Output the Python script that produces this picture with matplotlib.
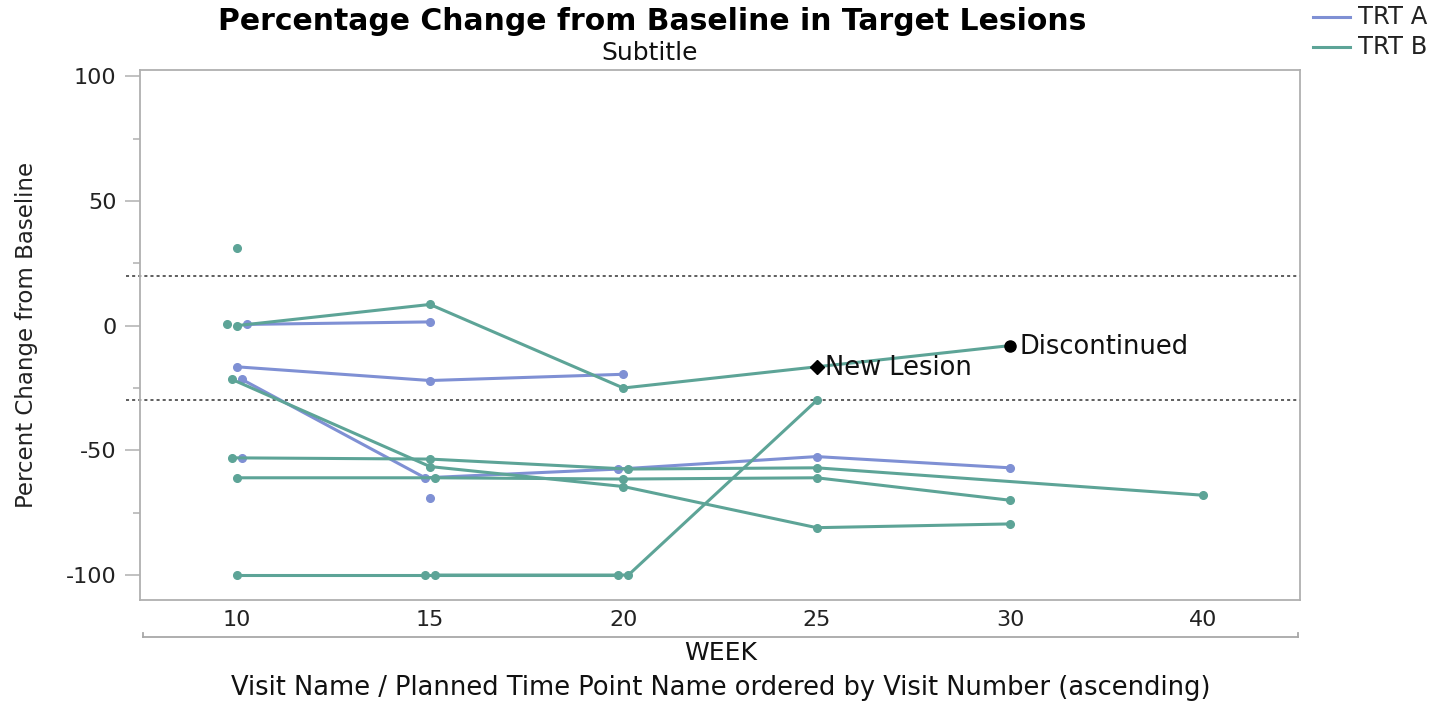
import matplotlib
matplotlib.use("Agg")
import matplotlib.pyplot as plt
from matplotlib.lines import Line2D
from matplotlib.ticker import MultipleLocator

plt.rcParams["axes.unicode_minus"] = False

# %%
# data
weeks = [10, 15, 20, 25, 30, 40]
week_labels = ["10", "15", "20", "25", "30", "40"]

# each subject: treatment, visit weeks, percent change, small x-jitter (pixels)
trt_a_1 = ("TRT A", [10, 15], [0.5, 1.5], [10, 0])
trt_a_2 = ("TRT A", [10, 15, 20], [-16.5, -22, -19.5], [0, 0, 0])
trt_a_3 = ("TRT A", [10, 15, 20, 25, 30], [-21.5, -61, -57.5, -52.5, -57], [5, -5, -5, 0, 0])
trt_a_4 = ("TRT A", [10], [-53], [5])
trt_a_5 = ("TRT A", [15], [-69], [0])

trt_b_1 = ("TRT B", [10], [31], [0])
trt_b_2 = ("TRT B", [10], [0.5], [-10])
trt_b_3 = ("TRT B", [10, 15, 20, 25, 30], [0, 8.5, -25, -16.5, -8], [0, 0, 0, 0, 0])
trt_b_4 = ("TRT B", [10, 15, 20, 25, 30], [-21.5, -56.5, -64.5, -81, -79.5], [-5, 0, 0, 0, 0])
trt_b_5 = ("TRT B", [10, 15, 20, 25, 40], [-53, -53.5, -57.5, -57, -68], [-5, 0, 5, 0, 0])
trt_b_6 = ("TRT B", [10, 15, 20, 25, 30], [-61, -61, -61.5, -61, -70], [0, 5, 0, 0, 0])
trt_b_7 = ("TRT B", [10, 15, 20], [-100, -100, -100], [0, -5, -5])
trt_b_8 = ("TRT B", [15, 20, 25], [-100, -100, -30], [5, 5, 0])

subjects = [trt_a_1, trt_a_2, trt_a_3, trt_a_4, trt_a_5,
            trt_b_1, trt_b_2, trt_b_3, trt_b_4, trt_b_5, trt_b_6, trt_b_7, trt_b_8]

# events flagged on subject trt_b_3
new_lesion = (25, -16.5)
discontinued = (30, -8)

ref_lines = [20, -30]

colors = {"TRT A": "#7f90d4", "TRT B": "#5da497"}

# %%
W, H = 1447, 702
fig = plt.figure(figsize=(W / 100, H / 100), dpi=100)
ax = fig.add_axes([140 / W, 1 - 600 / H, 1160 / W, 530 / H])

px_per_cat = 1160 / 6.0  # category spacing in pixels


def xpos(wk, off):
    return weeks.index(wk) + off / px_per_cat


for trt, wk, vals, off in subjects:
    xs = [xpos(w, o) for w, o in zip(wk, off)]
    ax.plot(xs, vals, color=colors[trt], linewidth=2.2, marker="o",
            markersize=5.5, zorder=3)

# event markers
ax.plot(xpos(new_lesion[0], 0), new_lesion[1], marker="D", color="black",
        markersize=7, zorder=5)
ax.plot(xpos(discontinued[0], 0), discontinued[1], marker="o", color="black",
        markersize=8, zorder=5)
ax.text(xpos(new_lesion[0], 0) + 0.045, new_lesion[1] - 0.5, "New Lesion",
        fontsize=18.5, va="center", ha="left", color="#111111", zorder=6)
ax.text(xpos(discontinued[0], 0) + 0.05, discontinued[1] - 0.5, "Discontinued",
        fontsize=18.5, va="center", ha="left", color="#111111", zorder=6)

# dotted reference lines, slightly past the left frame
for r in ref_lines:
    ax.plot([-0.012, 1], [r, r], transform=ax.get_yaxis_transform(),
            color="#333333", linestyle=(0, (2, 2)), linewidth=1.1,
            clip_on=False, zorder=2)

ax.set_xlim(-0.5, 5.5)
ax.set_ylim(-110, 102.5)
ax.set_xticks(range(len(weeks)))
ax.set_xticklabels(week_labels)
ax.yaxis.set_major_locator(MultipleLocator(50))
ax.yaxis.set_minor_locator(MultipleLocator(25))

for s in ax.spines.values():
    s.set_color("#b0b0b0")
    s.set_linewidth(1.3)

ax.tick_params(axis="y", which="major", length=11, width=1.1, color="#b0b0b0",
               labelsize=16, labelcolor="#222222", pad=6)
ax.tick_params(axis="y", which="minor", length=5, width=1.1, color="#b0b0b0")
ax.tick_params(axis="x", which="major", length=0, labelsize=16,
               labelcolor="#222222", pad=7)

fig.text(27 / W, 1 - 335 / H, "Percent Change from Baseline", fontsize=16.5,
         rotation=90, ha="center", va="center", color="#222222")

# bracket under the tick labels
by = 1 - 637 / H
x0, x1 = 143 / W, 1298 / W
fig.add_artist(Line2D([x0, x1], [by, by], color="#a8a8a8", linewidth=1.3))
fig.add_artist(Line2D([x0, x0], [by, by + 4 / H], color="#a8a8a8", linewidth=1.3))
fig.add_artist(Line2D([x1, x1], [by, by + 4 / H], color="#a8a8a8", linewidth=1.3))

fig.text(721 / W, 1 - 653 / H, "WEEK", fontsize=18, ha="center", va="center",
         color="#111111")
fig.text(721 / W, 1 - 688 / H,
         "Visit Name / Planned Time Point Name ordered by Visit Number (ascending)",
         fontsize=18.5, ha="center", va="center", color="#111111")

# titles
fig.text(652 / W, 1 - 21 / H, "Percentage Change from Baseline in Target Lesions",
         fontsize=21.5, fontweight="bold", ha="center", va="center")
fig.text(650 / W, 1 - 53 / H, "Subtitle", fontsize=18, ha="center", va="center",
         color="#111111")

# legend
for i, trt in enumerate(["TRT A", "TRT B"]):
    ly = 1 - (17 + 30 * i) / H
    fig.add_artist(Line2D([1313 / W, 1350 / W], [ly, ly], color=colors[trt],
                          linewidth=2.2))
    fig.text(1358 / W, ly, trt, fontsize=17.5, va="center", ha="left",
             color="#222222")

fig.savefig("out.png", dpi=100)
